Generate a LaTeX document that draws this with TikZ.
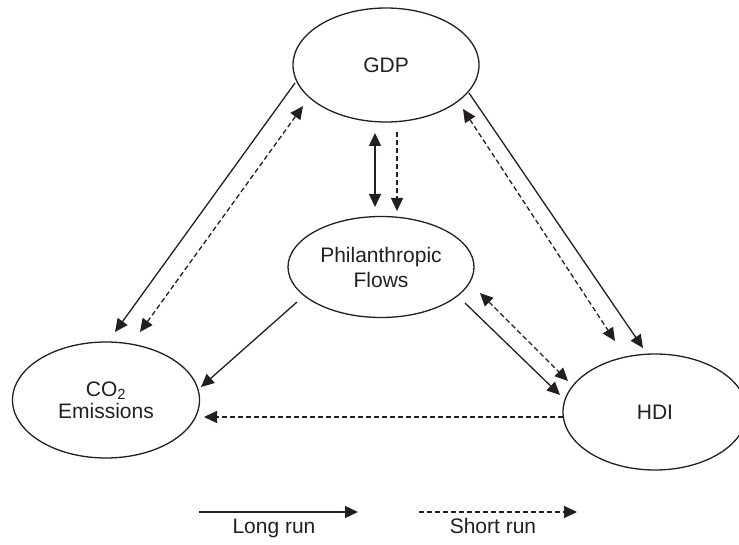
\documentclass[tikz,border=0pt]{standalone}
\usepackage{fontspec}
\setmainfont{Liberation Sans}
\usetikzlibrary{arrows.meta,shapes.geometric,calc}
\definecolor{ink}{HTML}{231F20}
\begin{document}
\begin{tikzpicture}[x=1pt,y=-1pt,
  >={Triangle[length=13pt,width=12pt]},
  every node/.style={font=\fontsize{21}{25}\selectfont, text=ink},
  bubble/.style={ellipse, draw=ink, line width=1.3pt, inner sep=0pt, align=center},
  lr/.style={draw=ink, line width=1.3pt},
  sr/.style={lr, dash pattern=on 5pt off 3pt},
]
\useasboundingbox (0,0) rectangle (739,545);
% nodes
\node[bubble, minimum width=186pt, minimum height=114pt] (gdp) at (386,65) {GDP};
\node[bubble, minimum width=186pt, minimum height=101pt] (phil) at (381,267) {Philanthropic\\Flows};
\node[bubble, minimum width=187pt, minimum height=116pt] (co2) at (106,400) {CO\textsubscript{2}\\[-3pt]Emissions};
\node[bubble, minimum width=184pt, minimum height=116pt] (hdi) at (655,412) {HDI};
% GDP -- CO2
\draw[lr,->] ($(gdp)+(-91,18)$) -- ($(co2)+(9,-68)$);
\draw[sr,<->] ($(co2)+(34,-68)$) -- ($(gdp)+(-83,41)$);
% GDP -- Philanthropic
\draw[lr,<->] ($(gdp)+(-11,68)$) -- ($(phil)+(-6,-60)$);
\draw[sr,->] ($(gdp)+(11,67)$) -- ($(phil)+(16,-56)$);
% GDP -- HDI
\draw[lr,->] ($(gdp)+(83,28)$) -- ($(hdi)+(-12,-64)$);
\draw[sr,<->] ($(gdp)+(77,44)$) -- ($(hdi)+(-40,-71)$);
% Philanthropic -- CO2
\draw[lr,->] ($(phil)+(-84,35)$) -- ($(co2)+(95,-13)$);
% Philanthropic -- HDI
\draw[lr,->] ($(phil)+(84,36)$) -- ($(hdi)+(-95,-17)$);
\draw[sr,<->] ($(phil)+(99,26)$) -- ($(hdi)+(-87,-31)$);
% HDI -- CO2
\draw[sr,->] ($(hdi)+(-92,5)$) -- ($(co2)+(98,17)$);
% legend
\coordinate (lra) at (199,512);
\coordinate (lrb) at (358,512);
\coordinate (sra) at (419,512);
\coordinate (srb) at (577,512);
\draw[lr,->] (lra) -- (lrb);
\draw[sr,->] (sra) -- (srb);
\node[anchor=base] (lrt) at (274,533) {Long run};
\node[anchor=base] (srt) at (493,533) {Short run};
\end{tikzpicture}
\end{document}
